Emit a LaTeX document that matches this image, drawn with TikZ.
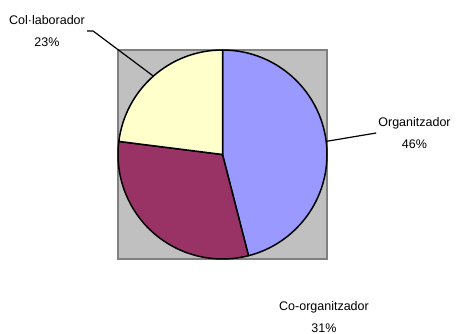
\documentclass[tikz,border=0pt]{standalone}
\usepackage{fontspec}
\setmainfont{Liberation Sans}
\usetikzlibrary{positioning}
\definecolor{orgblue}{HTML}{9999FF}
\definecolor{coorgred}{HTML}{993366}
\definecolor{colyellow}{HTML}{FFFFCC}
\definecolor{plotgray}{HTML}{C0C0C0}
\definecolor{framegray}{HTML}{808080}
\tikzset{slice/.style = {draw=black, line width=1.5pt, line join=round}}
\tikzset{lbl/.style = {align=center, inner sep=2pt, font=\fontsize{12.5}{22}\selectfont}}
\tikzset{lead/.style = {draw=black, line width=1.2pt}}

\begin{document}
\begin{tikzpicture}[x=1pt,y=1pt]
        \useasboundingbox (0,0) rectangle (456,334);
        \filldraw [fill=plotgray, draw=framegray, line width=1.5pt] (118,75) rectangle (327,284);
        \coordinate (c) at (222.5,179.5);
        \filldraw [slice, fill=orgblue] (c) -- ++(90:104.5) arc (90:-75.6:104.5) -- cycle;
        \filldraw [slice, fill=coorgred] (c) -- ++(-75.6:104.5) arc (-75.6:-187.2:104.5) -- cycle;
        \filldraw [slice, fill=colyellow] (c) -- ++(172.8:104.5) arc (172.8:90:104.5) -- cycle;
        \path (c) ++(131.4:104.5) coordinate (colpt);
        \path (c) ++(7.2:104.5) coordinate (orgpt);
        \node [lbl] (col) at (47,303) {Col·laborador\\23\%};
        \node [lbl] (org) at (414.5,201) {Organitzador\\46\%};
        \node [lbl] (coorg) at (324,17) {Co-organitzador\\31\%};
        \draw [lead] (col.east) -- ++(6,0) -- (colpt);
        \draw [lead] (orgpt) -- (org.west);
\end{tikzpicture}
\end{document}
